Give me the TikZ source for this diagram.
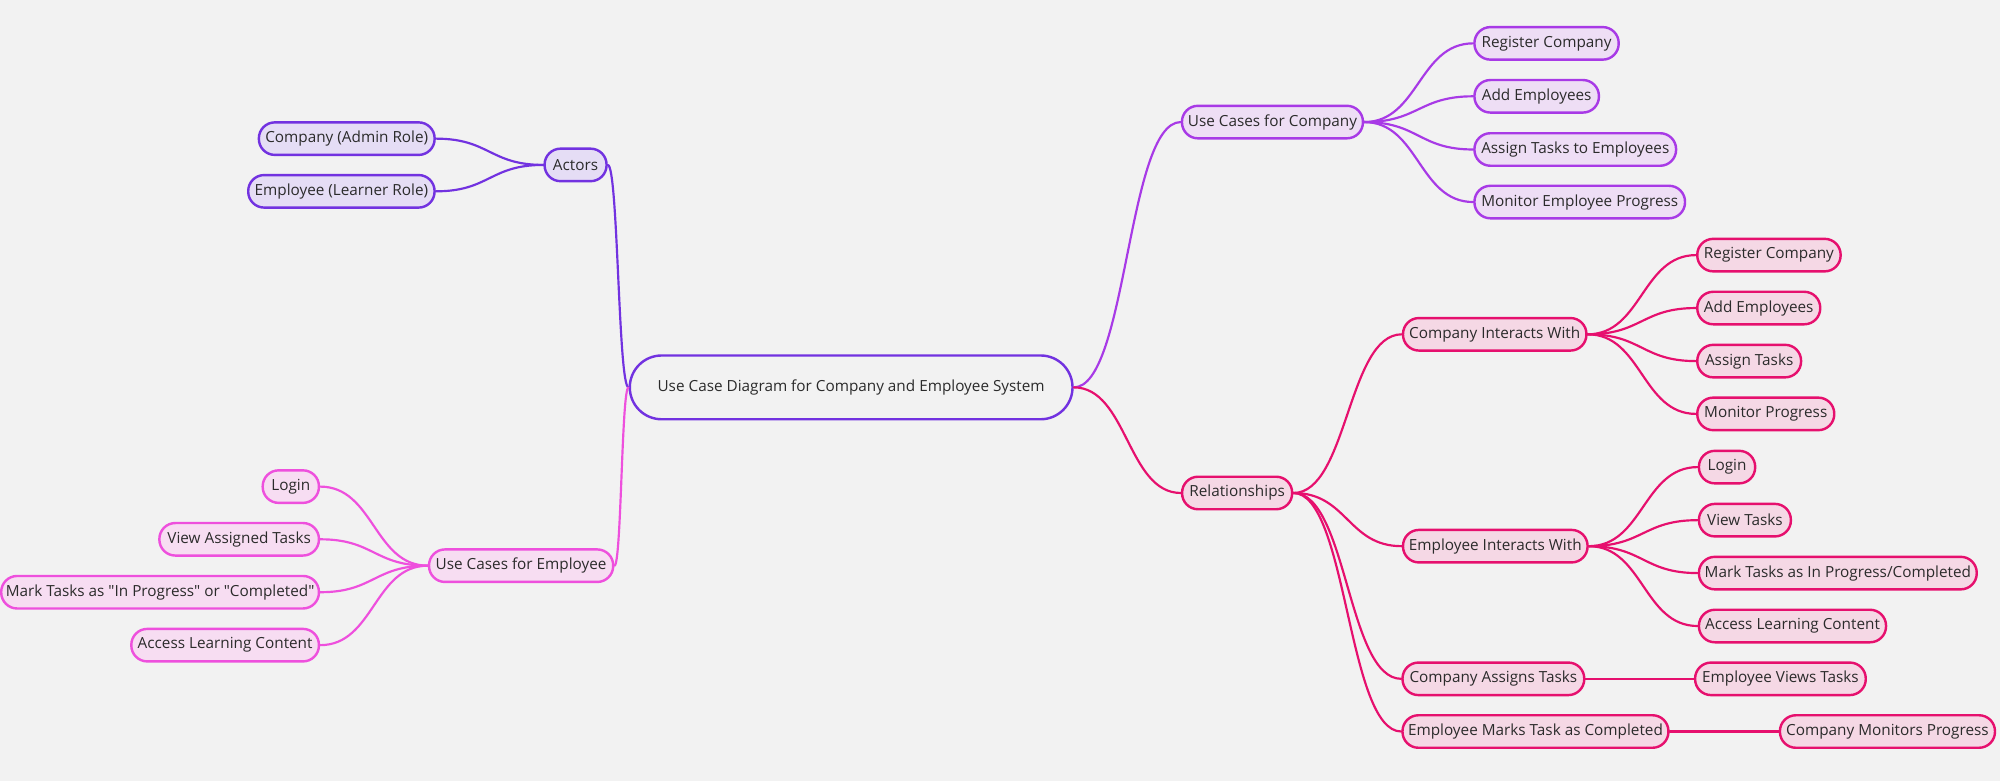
\documentclass[tikz,border=0pt]{standalone}
\usepackage{fontspec}
\setmainfont{Open Sans}[Ligatures=TeXOff]
\usetikzlibrary{calc}
\definecolor{bg}{HTML}{F2F2F2}
\definecolor{txt}{HTML}{2B2B2B}
\definecolor{actc}{HTML}{7232E0}
\definecolor{actf}{HTML}{E5DDF5}
\definecolor{uccc}{HTML}{A83AE6}
\definecolor{uccf}{HTML}{EEDEF5}
\definecolor{ucec}{HTML}{EE50DD}
\definecolor{ucef}{HTML}{F7DDF2}
\definecolor{relc}{HTML}{E6106E}
\definecolor{relf}{HTML}{F5D8E5}
\newcommand{\mmlink}[3]{\draw[#1] let \p1=(#2), \p2=(#3) in (\p1) .. controls ({(\x1+\x2)/2},\y1) and ({(\x1+\x2)/2},\y2) .. (\p2);}
\tikzset{
  box/.style={draw, line width=1.9pt, rounded corners=12.5pt, minimum height=25.5pt,
    inner xsep=3pt, inner ysep=0pt, text=txt, font=\fontsize{12}{14}\selectfont},
  wd/.style={minimum width=#1pt-1.9pt},
  actbox/.style={box, draw=actc, fill=actf},
  uccbox/.style={box, draw=uccc, fill=uccf},
  ucebox/.style={box, draw=ucec, fill=ucef},
  relbox/.style={box, draw=relc, fill=relf},
  link/.style={line width=1.7pt, line cap=round}
}
\begin{document}
\begin{tikzpicture}[x=1pt,y=-1pt]
\useasboundingbox (0,0) rectangle (1568,612.3);
\fill[bg] (-5,-5) rectangle (1573,617);

% root
\node[box, draw=actc, fill=bg, rounded corners=25pt, wd=349, minimum height=50pt] (root) at (667.3,303.7) {Use Case Diagram for Company and Employee System};

% Actors branch
\node[actbox, wd=50.5] (actors) at (451.25,129.3) {Actors};
\node[actbox, wd=139.7] (cadmin) at (271.85,108.7) {Company (Admin Role)};
\node[actbox, wd=148] (elearn) at (267.65,150) {Employee (Learner Role)};

% Use Cases for Employee
\node[ucebox, wd=146.3] (uce) at (408.55,443.5) {Use Cases for Employee};
\node[ucebox, wd=46] (loginL) at (228,381.5) {Login};
\node[ucebox, wd=127] (viewL) at (187.5,422.8) {View Assigned Tasks};
\node[ucebox, wd=251] (markL) at (125.5,464.3) {Mark Tasks as "In Progress" or "Completed"};
\node[ucebox, wd=149] (accessL) at (176.5,505.8) {Access Learning Content};

% Use Cases for Company
\node[uccbox, wd=143.8] (ucc) at (997.6,95.7) {Use Cases for Company};
\node[uccbox, wd=115] (reg1) at (1212.5,34) {Register Company};
\node[uccbox, wd=99.5] (add1) at (1204.75,75.5) {Add Employees};
\node[uccbox, wd=160] (assign1) at (1235,117.2) {Assign Tasks to Employees};
\node[uccbox, wd=167] (mon1) at (1238.5,158.4) {Monitor Employee Progress};

% Relationships
\node[relbox, wd=88.2] (rel) at (969.9,386.5) {Relationships};
\node[relbox, wd=145.7] (ciw) at (1171.85,262.1) {Company Interacts With};
\node[relbox, wd=114.3] (reg2) at (1386.85,200) {Register Company};
\node[relbox, wd=98.3] (add2) at (1378.85,241.5) {Add Employees};
\node[relbox, wd=83.3] (assign2) at (1371.35,283.1) {Assign Tasks};
\node[relbox, wd=109.3] (mon2) at (1384.35,324.5) {Monitor Progress};
\node[relbox, wd=146.6] (eiw) at (1172.3,428.2) {Employee Interacts With};
\node[relbox, wd=46] (login2) at (1354,366.2) {Login};
\node[relbox, wd=74] (view2) at (1368,407.8) {View Tasks};
\node[relbox, wd=219.7] (mark2) at (1440.85,449.3) {Mark Tasks as In Progress/Completed};
\node[relbox, wd=148.6] (access2) at (1405.3,490.8) {Access Learning Content};
\node[relbox, wd=144.4] (cat) at (1170.8,532.2) {Company Assigns Tasks};
\node[relbox, wd=135.7] (evt) at (1395.85,532.2) {Employee Views Tasks};
\node[relbox, wd=210.4] (emtc) at (1203.8,573.5) {Employee Marks Task as Completed};
\node[relbox, wd=170.5] (cmp) at (1479.75,573.5) {Company Monitors Progress};

% connectors
\mmlink{link, actc}{root.west}{actors.east}
\mmlink{link, actc}{actors.west}{cadmin.east}
\mmlink{link, actc}{actors.west}{elearn.east}

\mmlink{link, ucec}{root.west}{uce.east}
\mmlink{link, ucec}{uce.west}{loginL.east}
\mmlink{link, ucec}{uce.west}{viewL.east}
\mmlink{link, ucec}{uce.west}{markL.east}
\mmlink{link, ucec}{uce.west}{accessL.east}

\mmlink{link, uccc}{root.east}{ucc.west}
\mmlink{link, uccc}{ucc.east}{reg1.west}
\mmlink{link, uccc}{ucc.east}{add1.west}
\mmlink{link, uccc}{ucc.east}{assign1.west}
\mmlink{link, uccc}{ucc.east}{mon1.west}

\mmlink{link, relc}{root.east}{rel.west}
\mmlink{link, relc}{rel.east}{ciw.west}
\mmlink{link, relc}{rel.east}{eiw.west}
\mmlink{link, relc}{rel.east}{cat.west}
\mmlink{link, relc}{rel.east}{emtc.west}
\mmlink{link, relc}{ciw.east}{reg2.west}
\mmlink{link, relc}{ciw.east}{add2.west}
\mmlink{link, relc}{ciw.east}{assign2.west}
\mmlink{link, relc}{ciw.east}{mon2.west}
\mmlink{link, relc}{eiw.east}{login2.west}
\mmlink{link, relc}{eiw.east}{view2.west}
\mmlink{link, relc}{eiw.east}{mark2.west}
\mmlink{link, relc}{eiw.east}{access2.west}
\draw[link, relc] (cat.east) -- (evt.west);
\draw[link, relc] (emtc.east) -- (cmp.west);
\end{tikzpicture}
\end{document}
